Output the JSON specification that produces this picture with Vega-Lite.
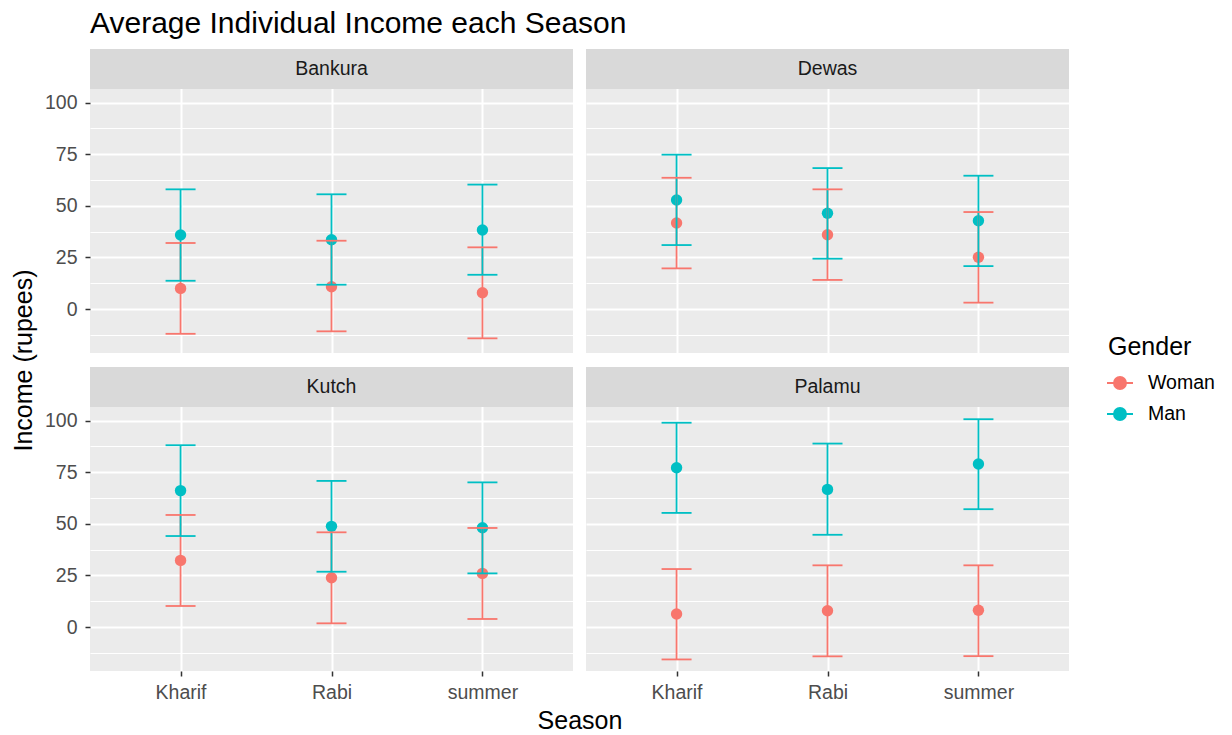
{
  "$schema": "https://vega.github.io/schema/vega-lite/v6.json",
  "padding": {"left": 11, "top": 9, "right": 5, "bottom": 0},
  "background": "white",
  "title": {"text": "Average Individual Income each Season", "anchor": "start", "frame": "group", "fontSize": 30, "fontWeight": "normal", "font": "Liberation Sans", "color": "#000000", "offset": 10},
  "data": {"values": [
    {"District": "Bankura", "Season": "Kharif", "Gender": "Woman", "mean": 10.0, "lower": -12.0, "upper": 32.0},
    {"District": "Bankura", "Season": "Rabi", "Gender": "Woman", "mean": 10.8, "lower": -10.8, "upper": 33.1},
    {"District": "Bankura", "Season": "summer", "Gender": "Woman", "mean": 7.9, "lower": -14.2, "upper": 29.9},
    {"District": "Dewas", "Season": "Kharif", "Gender": "Woman", "mean": 41.7, "lower": 19.7, "upper": 63.6},
    {"District": "Dewas", "Season": "Rabi", "Gender": "Woman", "mean": 36.0, "lower": 14.1, "upper": 58.0},
    {"District": "Dewas", "Season": "summer", "Gender": "Woman", "mean": 25.1, "lower": 3.1, "upper": 47.0},
    {"District": "Kutch", "Season": "Kharif", "Gender": "Woman", "mean": 32.3, "lower": 10.2, "upper": 54.3},
    {"District": "Kutch", "Season": "Rabi", "Gender": "Woman", "mean": 23.9, "lower": 1.8, "upper": 45.9},
    {"District": "Kutch", "Season": "summer", "Gender": "Woman", "mean": 26.0, "lower": 3.9, "upper": 48.0},
    {"District": "Palamu", "Season": "Kharif", "Gender": "Woman", "mean": 6.3, "lower": -15.7, "upper": 28.1},
    {"District": "Palamu", "Season": "Rabi", "Gender": "Woman", "mean": 7.9, "lower": -14.2, "upper": 29.9},
    {"District": "Palamu", "Season": "summer", "Gender": "Woman", "mean": 8.1, "lower": -14.1, "upper": 29.9},
    {"District": "Bankura", "Season": "Kharif", "Gender": "Man", "mean": 35.9, "lower": 13.7, "upper": 58.0},
    {"District": "Bankura", "Season": "Rabi", "Gender": "Man", "mean": 33.6, "lower": 11.8, "upper": 55.6},
    {"District": "Bankura", "Season": "summer", "Gender": "Man", "mean": 38.3, "lower": 16.6, "upper": 60.3},
    {"District": "Dewas", "Season": "Kharif", "Gender": "Man", "mean": 52.8, "lower": 31.0, "upper": 74.8},
    {"District": "Dewas", "Season": "Rabi", "Gender": "Man", "mean": 46.4, "lower": 24.4, "upper": 68.3},
    {"District": "Dewas", "Season": "summer", "Gender": "Man", "mean": 42.8, "lower": 20.8, "upper": 64.6},
    {"District": "Kutch", "Season": "Kharif", "Gender": "Man", "mean": 66.1, "lower": 44.1, "upper": 88.1},
    {"District": "Kutch", "Season": "Rabi", "Gender": "Man", "mean": 48.8, "lower": 26.8, "upper": 70.8},
    {"District": "Kutch", "Season": "summer", "Gender": "Man", "mean": 48.1, "lower": 26.0, "upper": 70.1},
    {"District": "Palamu", "Season": "Kharif", "Gender": "Man", "mean": 77.2, "lower": 55.3, "upper": 99.0},
    {"District": "Palamu", "Season": "Rabi", "Gender": "Man", "mean": 66.7, "lower": 44.7, "upper": 88.9},
    {"District": "Palamu", "Season": "summer", "Gender": "Man", "mean": 79.0, "lower": 57.1, "upper": 100.7}
  ]},
  "columns": 2,
  "spacing": {"row": 14, "column": 13},
  "bounds": "flush",
  "resolve": {"scale": {"color": "shared"}, "legend": {"color": "shared"}},
  "concat": [
    {
      "width": 483, "height": 304,
      "transform": [{"filter": "datum.District === 'Bankura'"}],
      "encoding": {"x": {"field": "Season", "type": "nominal", "scale": {"type": "point", "padding": 0.6}, "title": null,
                         "axis": {"labels": false, "ticks": false, "title": null, "gridWidth": 2}}},
      "layer": [
        {"mark": {"type": "point", "filled": true, "opacity": 1, "size": 130},
         "encoding": {
           "y": {"field": "mean", "type": "quantitative", "title": "Income (rupees)", "scale": {"domain": [-21.3, 126], "nice": false, "zero": false},
                 "axis": {"values": [-12.5, 0, 12.5, 25, 37.5, 50, 62.5, 75, 87.5, 100], "tickCount": 20, "labelOverlap": false,
                          "labelExpr": "(datum.value % 25 === 0) ? datum.label : ''",
                          "gridWidth": {"condition": {"test": "datum.value % 25 === 0", "value": 2}, "value": 1},
                          "tickOpacity": {"condition": {"test": "datum.value % 25 === 0", "value": 1}, "value": 0},
                          "tickSize": 5, "tickWidth": 1.5, "labelPadding": 8, "titlePadding": 8,
                          "title": "Income (rupees)", "titleY": 311}},
           "color": {"field": "Gender", "type": "nominal",
                     "scale": {"domain": ["Woman", "Man"], "range": ["#F8766D", "#00BFC4"]},
                     "legend": {"title": "Gender", "orient": "none", "legendX": 1018, "legendY": 286,
                                "titleFontSize": 25, "titleFontWeight": "normal", "titleColor": "#000000", "titleFont": "Liberation Sans", "titlePadding": 9,
                                "labelFontSize": 19.5, "labelColor": "#000000", "labelFont": "Liberation Sans", "labelOffset": 14, "symbolOffset": -2,
                                "symbolType": "M-1,0H1M0.46,0A0.46,0.46 0 1,1 -0.46,0A0.46,0.46 0 1,1 0.46,0Z",
                                "symbolSize": 676, "symbolStrokeWidth": 2, "rowPadding": 7,
                                "encode": {"symbols": {"update": {"stroke": {"scale": "color", "field": "value"}, "fill": {"scale": "color", "field": "value"}, "strokeWidth": {"value": 2}, "opacity": {"value": 1}}}}}}}},
        {"mark": {"type": "rule", "strokeWidth": 1.8},
         "encoding": {"y": {"field": "lower", "type": "quantitative", "title": "Income (rupees)"}, "y2": {"field": "upper"}, "color": {"field": "Gender", "type": "nominal", "legend": null}}},
        {"mark": {"type": "tick", "size": 30, "thickness": 1.8, "opacity": 1},
         "encoding": {"y": {"field": "upper", "type": "quantitative", "title": "Income (rupees)"}, "color": {"field": "Gender", "type": "nominal", "legend": null}}},
        {"mark": {"type": "tick", "size": 30, "thickness": 1.8, "opacity": 1},
         "encoding": {"y": {"field": "lower", "type": "quantitative", "title": "Income (rupees)"}, "color": {"field": "Gender", "type": "nominal", "legend": null}}},
        {"transform": [{"filter": "datum.Season === 'Rabi' && datum.Gender === 'Man'"}],
         "mark": {"type": "rect", "fill": "#D9D9D9"},
         "encoding": {"x": {"value": 0}, "x2": {"value": "width"}, "y": {"datum": 126}, "y2": {"datum": 106.6}}},
        {"transform": [{"filter": "datum.Season === 'Rabi' && datum.Gender === 'Man'"}],
         "mark": {"type": "text", "fontSize": 19.5, "font": "Liberation Sans", "color": "#1A1A1A", "baseline": "middle"},
         "encoding": {"x": {"datum": "Rabi", "type": "nominal"}, "y": {"datum": 116.3}, "text": {"field": "District"}}}
      ]
    },
    {
      "width": 483, "height": 304,
      "transform": [{"filter": "datum.District === 'Dewas'"}],
      "encoding": {"x": {"field": "Season", "type": "nominal", "scale": {"type": "point", "padding": 0.6}, "title": null,
                         "axis": {"labels": false, "ticks": false, "title": null, "gridWidth": 2}}},
      "layer": [
        {"mark": {"type": "point", "filled": true, "opacity": 1, "size": 130},
         "encoding": {
           "y": {"field": "mean", "type": "quantitative", "title": null, "scale": {"domain": [-21.3, 126], "nice": false, "zero": false},
                 "axis": {"values": [-12.5, 0, 12.5, 25, 37.5, 50, 62.5, 75, 87.5, 100], "tickCount": 20,
                          "labels": false, "ticks": false, "title": null,
                          "gridWidth": {"condition": {"test": "datum.value % 25 === 0", "value": 2}, "value": 1}}},
           "color": {"field": "Gender", "type": "nominal", "legend": null}}},
        {"mark": {"type": "rule", "strokeWidth": 1.8},
         "encoding": {"y": {"field": "lower", "type": "quantitative", "title": null}, "y2": {"field": "upper"}, "color": {"field": "Gender", "type": "nominal", "legend": null}}},
        {"mark": {"type": "tick", "size": 30, "thickness": 1.8, "opacity": 1},
         "encoding": {"y": {"field": "upper", "type": "quantitative", "title": null}, "color": {"field": "Gender", "type": "nominal", "legend": null}}},
        {"mark": {"type": "tick", "size": 30, "thickness": 1.8, "opacity": 1},
         "encoding": {"y": {"field": "lower", "type": "quantitative", "title": null}, "color": {"field": "Gender", "type": "nominal", "legend": null}}},
        {"transform": [{"filter": "datum.Season === 'Rabi' && datum.Gender === 'Man'"}],
         "mark": {"type": "rect", "fill": "#D9D9D9"},
         "encoding": {"x": {"value": 0}, "x2": {"value": "width"}, "y": {"datum": 126}, "y2": {"datum": 106.6}}},
        {"transform": [{"filter": "datum.Season === 'Rabi' && datum.Gender === 'Man'"}],
         "mark": {"type": "text", "fontSize": 19.5, "font": "Liberation Sans", "color": "#1A1A1A", "baseline": "middle"},
         "encoding": {"x": {"datum": "Rabi", "type": "nominal"}, "y": {"datum": 116.3}, "text": {"field": "District"}}}
      ]
    },
    {
      "width": 483, "height": 304,
      "transform": [{"filter": "datum.District === 'Kutch'"}],
      "encoding": {"x": {"field": "Season", "type": "nominal", "scale": {"type": "point", "padding": 0.6}, "title": "Season",
                         "axis": {"labelAngle": 0, "gridWidth": 2, "tickSize": 5, "tickWidth": 1.5, "labelPadding": 7, "titlePadding": 7, "title": "Season", "titleX": 489.5}}},
      "layer": [
        {"mark": {"type": "point", "filled": true, "opacity": 1, "size": 130},
         "encoding": {
           "y": {"field": "mean", "type": "quantitative", "title": null, "scale": {"domain": [-21.3, 126], "nice": false, "zero": false},
                 "axis": {"values": [-12.5, 0, 12.5, 25, 37.5, 50, 62.5, 75, 87.5, 100], "tickCount": 20, "labelOverlap": false,
                          "labelExpr": "(datum.value % 25 === 0) ? datum.label : ''",
                          "gridWidth": {"condition": {"test": "datum.value % 25 === 0", "value": 2}, "value": 1},
                          "tickOpacity": {"condition": {"test": "datum.value % 25 === 0", "value": 1}, "value": 0},
                          "tickSize": 5, "tickWidth": 1.5, "labelPadding": 8, "title": null}},
           "color": {"field": "Gender", "type": "nominal", "legend": null}}},
        {"mark": {"type": "rule", "strokeWidth": 1.8},
         "encoding": {"y": {"field": "lower", "type": "quantitative", "title": null}, "y2": {"field": "upper"}, "color": {"field": "Gender", "type": "nominal", "legend": null}}},
        {"mark": {"type": "tick", "size": 30, "thickness": 1.8, "opacity": 1},
         "encoding": {"y": {"field": "upper", "type": "quantitative", "title": null}, "color": {"field": "Gender", "type": "nominal", "legend": null}}},
        {"mark": {"type": "tick", "size": 30, "thickness": 1.8, "opacity": 1},
         "encoding": {"y": {"field": "lower", "type": "quantitative", "title": null}, "color": {"field": "Gender", "type": "nominal", "legend": null}}},
        {"transform": [{"filter": "datum.Season === 'Rabi' && datum.Gender === 'Man'"}],
         "mark": {"type": "rect", "fill": "#D9D9D9"},
         "encoding": {"x": {"value": 0}, "x2": {"value": "width"}, "y": {"datum": 126}, "y2": {"datum": 106.6}}},
        {"transform": [{"filter": "datum.Season === 'Rabi' && datum.Gender === 'Man'"}],
         "mark": {"type": "text", "fontSize": 19.5, "font": "Liberation Sans", "color": "#1A1A1A", "baseline": "middle"},
         "encoding": {"x": {"datum": "Rabi", "type": "nominal"}, "y": {"datum": 116.3}, "text": {"field": "District"}}}
      ]
    },
    {
      "width": 483, "height": 304,
      "transform": [{"filter": "datum.District === 'Palamu'"}],
      "encoding": {"x": {"field": "Season", "type": "nominal", "scale": {"type": "point", "padding": 0.6}, "title": null,
                         "axis": {"labelAngle": 0, "gridWidth": 2, "tickSize": 5, "tickWidth": 1.5, "labelPadding": 7, "title": null}}},
      "layer": [
        {"mark": {"type": "point", "filled": true, "opacity": 1, "size": 130},
         "encoding": {
           "y": {"field": "mean", "type": "quantitative", "title": null, "scale": {"domain": [-21.3, 126], "nice": false, "zero": false},
                 "axis": {"values": [-12.5, 0, 12.5, 25, 37.5, 50, 62.5, 75, 87.5, 100], "tickCount": 20,
                          "labels": false, "ticks": false, "title": null,
                          "gridWidth": {"condition": {"test": "datum.value % 25 === 0", "value": 2}, "value": 1}}},
           "color": {"field": "Gender", "type": "nominal", "legend": null}}},
        {"mark": {"type": "rule", "strokeWidth": 1.8},
         "encoding": {"y": {"field": "lower", "type": "quantitative", "title": null}, "y2": {"field": "upper"}, "color": {"field": "Gender", "type": "nominal", "legend": null}}},
        {"mark": {"type": "tick", "size": 30, "thickness": 1.8, "opacity": 1},
         "encoding": {"y": {"field": "upper", "type": "quantitative", "title": null}, "color": {"field": "Gender", "type": "nominal", "legend": null}}},
        {"mark": {"type": "tick", "size": 30, "thickness": 1.8, "opacity": 1},
         "encoding": {"y": {"field": "lower", "type": "quantitative", "title": null}, "color": {"field": "Gender", "type": "nominal", "legend": null}}},
        {"transform": [{"filter": "datum.Season === 'Rabi' && datum.Gender === 'Man'"}],
         "mark": {"type": "rect", "fill": "#D9D9D9"},
         "encoding": {"x": {"value": 0}, "x2": {"value": "width"}, "y": {"datum": 126}, "y2": {"datum": 106.6}}},
        {"transform": [{"filter": "datum.Season === 'Rabi' && datum.Gender === 'Man'"}],
         "mark": {"type": "text", "fontSize": 19.5, "font": "Liberation Sans", "color": "#1A1A1A", "baseline": "middle"},
         "encoding": {"x": {"datum": "Rabi", "type": "nominal"}, "y": {"datum": 116.3}, "text": {"field": "District"}}}
      ]
    }
  ],
  "config": {
    "font": "Liberation Sans",
    "view": {"fill": "#EBEBEB", "stroke": null},
    "axis": {"domain": false, "grid": true, "gridColor": "#FFFFFF", "tickColor": "#333333", "labelColor": "#4D4D4D",
             "labelFontSize": 19.5, "labelFont": "Liberation Sans", "titleFontSize": 25, "titleFontWeight": "normal",
             "titleColor": "#000000", "titleFont": "Liberation Sans"}
  }
}
